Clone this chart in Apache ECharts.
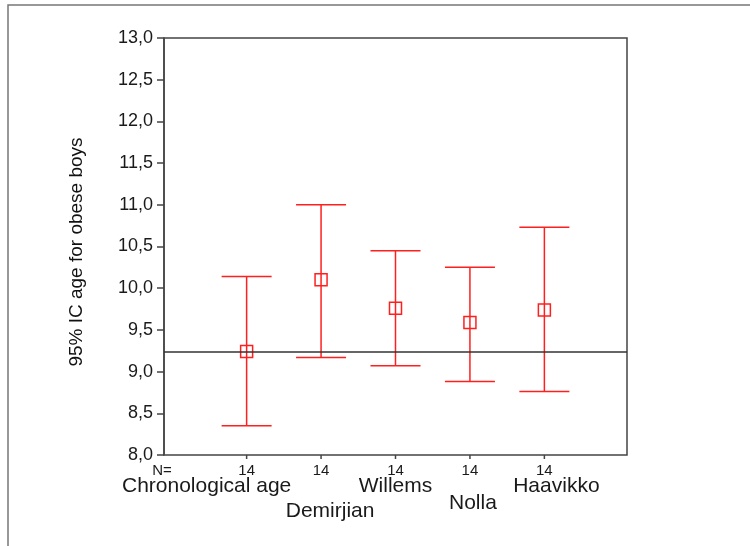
<!DOCTYPE html>
<html><head><meta charset="utf-8">
<script src="https://cdn.jsdelivr.net/npm/echarts@6/dist/echarts.min.js"></script>
<style>html,body{margin:0;padding:0;background:#fff}#c{width:750px;height:546px}</style>
</head><body><div id="c"></div>
<script>
// ---- data ----
const categories = ['Chronological age', 'Demirjian', 'Willems', 'Nolla', 'Haavikko'];
const means = [9.24, 10.10, 9.76, 9.59, 9.74];
const upperCI = [10.14, 11.00, 10.45, 10.25, 10.73];
const lowerCI = [8.35, 9.17, 9.07, 8.88, 8.76];
const nCounts = [14, 14, 14, 14, 14];
const referenceValue = 9.24;
const yAxisTitle = '95% IC age for obese boys';
const nLabel = 'N=';

// ---- layout (label offsets relative to tick / axis bottom) ----
const labelDx = [-40, 9, 0, 3, 12];
const labelDy = [31, 56, 31, 48, 31];

const FONT = '"Liberation Sans", Arial, sans-serif';
const RED = '#ff1f1f';
const AXIS = '#444';
const TXT = '#1a1a1a';

const chart = echarts.init(document.getElementById('c'), null, {renderer: 'canvas'});
const data = categories.map((c, i) => [i + 1, means[i], lowerCI[i], upperCI[i], nCounts[i]]);

const option = {
  animation: false,
  backgroundColor: '#fff',
  grid: {left: 164, top: 38, width: 463, height: 417, show: true, borderColor: AXIS, borderWidth: 1.5, backgroundColor: 'transparent'},
  xAxis: {type: 'value', min: -0.11, max: 6.11, axisLine: {show: false}, axisTick: {show: false}, axisLabel: {show: false}, splitLine: {show: false}},
  yAxis: {
    type: 'value', min: 8, max: 13, interval: 0.5,
    axisLine: {show: true, onZero: false, lineStyle: {color: AXIS, width: 1.5}},
    axisTick: {show: true, length: 7, lineStyle: {color: AXIS, width: 1.5}},
    axisLabel: {margin: 11, fontSize: 18, color: TXT, fontFamily: FONT, formatter: v => v.toFixed(1).replace('.', ',')},
    splitLine: {show: false}
  },
  graphic: [
    {type: 'polyline', silent: true, shape: {points: [[8, 546], [8, 5], [750, 5]]}, style: {stroke: '#777', lineWidth: 1.5, fill: null}},
    {type: 'text', x: 77, y: 252, rotation: Math.PI / 2, style: {text: yAxisTitle, font: '19px ' + FONT, fill: '#111', align: 'center', verticalAlign: 'middle', textAlign: 'center', textVerticalAlign: 'middle'}}
  ],
  series: [{
    type: 'custom',
    clip: false,
    data: data,
    encode: {x: 0, y: [1, 2, 3]},
    renderItem: function (params, api) {
      const i = params.dataIndex;
      const pm = api.coord([api.value(0), api.value(1)]);
      const pl = api.coord([api.value(0), api.value(2)]);
      const pu = api.coord([api.value(0), api.value(3)]);
      const x = pm[0];
      const cs = params.coordSys;
      const base = cs.y + cs.height;
      const half = 25, sq = 12;
      const ls = {stroke: RED, lineWidth: 1.5};
      const children = [
        {type: 'line', shape: {x1: x, y1: pu[1], x2: x, y2: pl[1]}, style: ls},
        {type: 'line', shape: {x1: x - half, y1: pu[1], x2: x + half, y2: pu[1]}, style: ls},
        {type: 'line', shape: {x1: x - half, y1: pl[1], x2: x + half, y2: pl[1]}, style: ls},
        {type: 'rect', shape: {x: x - sq / 2, y: pm[1] - sq / 2, width: sq, height: sq}, style: {stroke: RED, lineWidth: 1.5, fill: null}},
        {type: 'line', shape: {x1: x, y1: base, x2: x, y2: base + 4}, style: {stroke: AXIS, lineWidth: 1.5}},
        {type: 'text', style: {text: String(api.value(4)), x: x, y: base + 16, align: 'center', verticalAlign: 'middle', fontSize: 15, fontFamily: FONT, fill: TXT}},
        {type: 'text', style: {text: categories[i], x: x + labelDx[i], y: base + labelDy[i], align: 'center', verticalAlign: 'middle', fontSize: 21, fontFamily: FONT, fill: TXT}}
      ];
      if (i === 0) {
        children.push({type: 'text', style: {text: nLabel, x: cs.x - 2, y: base + 16, align: 'center', verticalAlign: 'middle', fontSize: 15, fontFamily: FONT, fill: TXT}});
      }
      return {type: 'group', children: children};
    },
    markLine: {
      silent: true, symbol: ['none', 'none'], label: {show: false},
      lineStyle: {color: '#333', width: 1.5, type: 'solid'},
      data: [{yAxis: referenceValue}]
    }
  }]
};
chart.setOption(option);
</script>
</body></html>
